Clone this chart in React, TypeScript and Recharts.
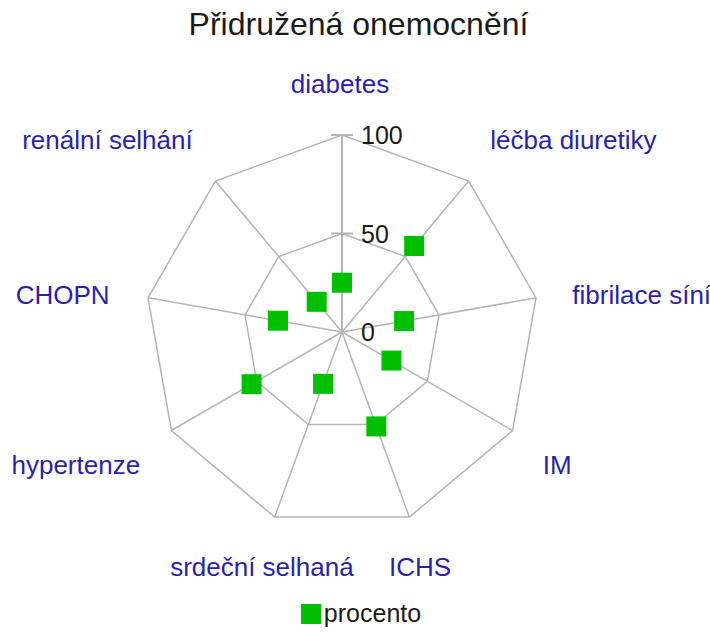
import { Legend, PolarAngleAxis, PolarGrid, PolarRadiusAxis, Radar, RadarChart } from "recharts";

const categories = [
  "diabetes",
  "léčba diuretiky",
  "fibrilace síní",
  "IM",
  "ICHS",
  "srdeční selhaná",
  "hypertenze",
  "CHOPN",
  "renální selhání",
];
const procento = [25, 57, 32, 29, 51, 28, 53, 33, 20];
const radiusTicks = [0, 50, 100];

const data = categories.map((name, i) => ({ name, procento: procento[i] }));

const CX = 342;
const CY = 332;
const R = 197;
const GREEN = "#00c000";
const GRID = "#b4b4b4";
const LABEL = "#2a1fb0";
const FONT = "'Liberation Sans', Arial, sans-serif";

// small per-label nudges so the names sit like in the original export
const labelNudge: [number, number][] = [
  [-2, -8],
  [-6, -8],
  [-6, 5],
  [-7, 13],
  [-4, 9],
  [2, 9],
  [6, 13],
  [4, 5],
  [5, -8],
];

function AngleTick(props: any) {
  const { payload, index } = props;
  const rad = (-payload.coordinate * Math.PI) / 180;
  const horiz = Math.cos(rad);
  const x = CX + 240 * Math.cos(rad) + labelNudge[index][0];
  const y = CY + 240 * Math.sin(rad) + labelNudge[index][1];
  const anchor = Math.abs(horiz) < 0.5 ? "middle" : horiz > 0 ? "start" : "end";
  return (
    <text x={x} y={y} textAnchor={anchor} dominantBaseline="central" fill={LABEL} fontSize={26} fontFamily={FONT}>
      {payload.value}
    </text>
  );
}

function RadiusTick(props: any) {
  const { x, y, payload } = props;
  return (
    <g>
      {payload.value > 0 && <line x1={x - 11} x2={x + 11} y1={y} y2={y} stroke={GRID} strokeWidth={2} />}
      <text x={x + 19} y={y} dominantBaseline="central" fill="#1a1a1a" fontSize={25} fontFamily={FONT}>
        {payload.value}
      </text>
    </g>
  );
}

function SquareDot(props: any) {
  const { cx, cy, index } = props;
  return <rect key={`dot-${index}`} x={cx - 10} y={cy - 10} width={20} height={20} fill={GREEN} />;
}

function LegendContent() {
  return (
    <div style={{ display: "flex", justifyContent: "center", alignItems: "center", fontFamily: FONT }}>
      <span style={{ width: 20, height: 20, background: GREEN, display: "inline-block", marginRight: 3 }} />
      <span style={{ fontSize: 25, color: "#1a1a1a" }}>procento</span>
    </div>
  );
}

export default function App() {
  return (
    <div style={{ position: "relative", width: 710, height: 633, background: "#fff" }}>
      <style>{`body{margin:0}`}</style>
      <div
        style={{
          position: "absolute",
          top: 6,
          left: 0,
          width: 717,
          textAlign: "center",
          fontFamily: FONT,
          fontSize: 32,
          color: "#1a1a1a",
        }}
      >
        Přidružená onemocnění
      </div>
      <RadarChart width={710} height={633} data={data} cx={CX} cy={CY} outerRadius={R} margin={{ top: 0, right: 0, bottom: 0, left: 0 }}>
        <PolarGrid gridType="polygon" stroke={GRID} strokeWidth={1.5} />
        <PolarAngleAxis dataKey="name" tick={AngleTick} tickLine={false} axisLine={false} />
        <PolarRadiusAxis
          angle={90}
          domain={[0, 100]}
          ticks={radiusTicks}
          tick={RadiusTick}
          axisLine={{ stroke: GRID, strokeWidth: 2 }}
          tickLine={false}
        />
        <Radar
          dataKey="procento"
          name="procento"
          stroke="none"
          fill="none"
          dot={SquareDot}
          isAnimationActive={false}
        />
        <Legend verticalAlign="bottom" content={LegendContent} wrapperStyle={{ bottom: 5, left: 6 }} />
      </RadarChart>
    </div>
  );
}
